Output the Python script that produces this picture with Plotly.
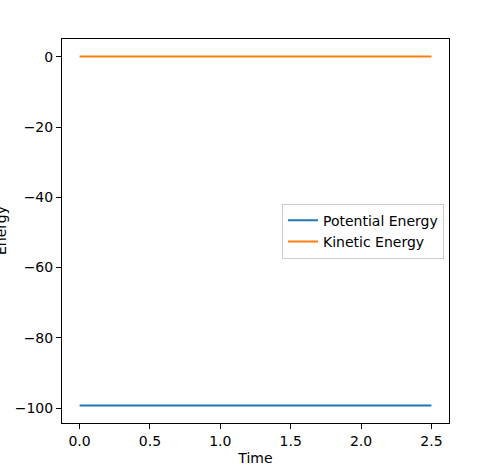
import plotly.graph_objects as go

# energy over time
time = [0.0, 0.25, 0.5, 0.75, 1.0, 1.25, 1.5, 1.75, 2.0, 2.25, 2.5]
potential_energy = [-99.3, -99.3, -99.3, -99.3, -99.3, -99.3, -99.3, -99.3, -99.3, -99.3, -99.3]
kinetic_energy = [0.1, 0.1, 0.1, 0.1, 0.1, 0.1, 0.1, 0.1, 0.1, 0.1, 0.1]

x_ticks = [0.0, 0.5, 1.0, 1.5, 2.0, 2.5]
y_ticks = [0, -20, -40, -60, -80, -100]

font = dict(family="DejaVu Sans", size=14, color="black")

fig = go.Figure()
fig.add_trace(go.Scatter(x=time, y=potential_energy, mode="lines", name="Potential Energy",
                         line=dict(color="#1f77b4", width=2)))
fig.add_trace(go.Scatter(x=time, y=kinetic_energy, mode="lines", name="Kinetic Energy",
                         line=dict(color="#ff7f0e", width=2)))

axis_style = dict(showgrid=False, zeroline=False, showline=True, linecolor="black", linewidth=1,
                  mirror=True, ticks="outside", ticklen=5, tickcolor="black", tickwidth=1,
                  tickfont=font)

fig.update_layout(
    width=479, height=476,
    margin=dict(l=62, r=30, t=39, b=53),
    paper_bgcolor="white", plot_bgcolor="white",
    font=font,
    showlegend=True,
    legend=dict(x=0.987, y=0.571, xanchor="right", yanchor="top",
                bgcolor="rgba(255,255,255,0.8)", bordercolor="#cccccc", borderwidth=1,
                font=font, tracegroupgap=0),
)
fig.update_xaxes(range=[-0.125, 2.625], tickvals=x_ticks,
                 ticktext=[f"{v:.1f}" for v in x_ticks],
                 title=dict(text="Time", font=font, standoff=5), **axis_style)
fig.update_yaxes(range=[-104.27, 5.07], tickvals=y_ticks,
                 ticktext=[str(v).replace("-", "\u2212") for v in y_ticks], **axis_style)

# y title sits partly off the left edge, as in the original
fig.add_annotation(text="Energy", xref="paper", yref="paper", x=0, y=0.5,
                   xshift=-61, textangle=-90, showarrow=False, font=font,
                   xanchor="center", yanchor="middle")

# drop the browser's default body margin so the figure starts at the corner
fig.write_html("out.html", config={"displayModeBar": False},
               post_script="document.body.style.margin='0';")
